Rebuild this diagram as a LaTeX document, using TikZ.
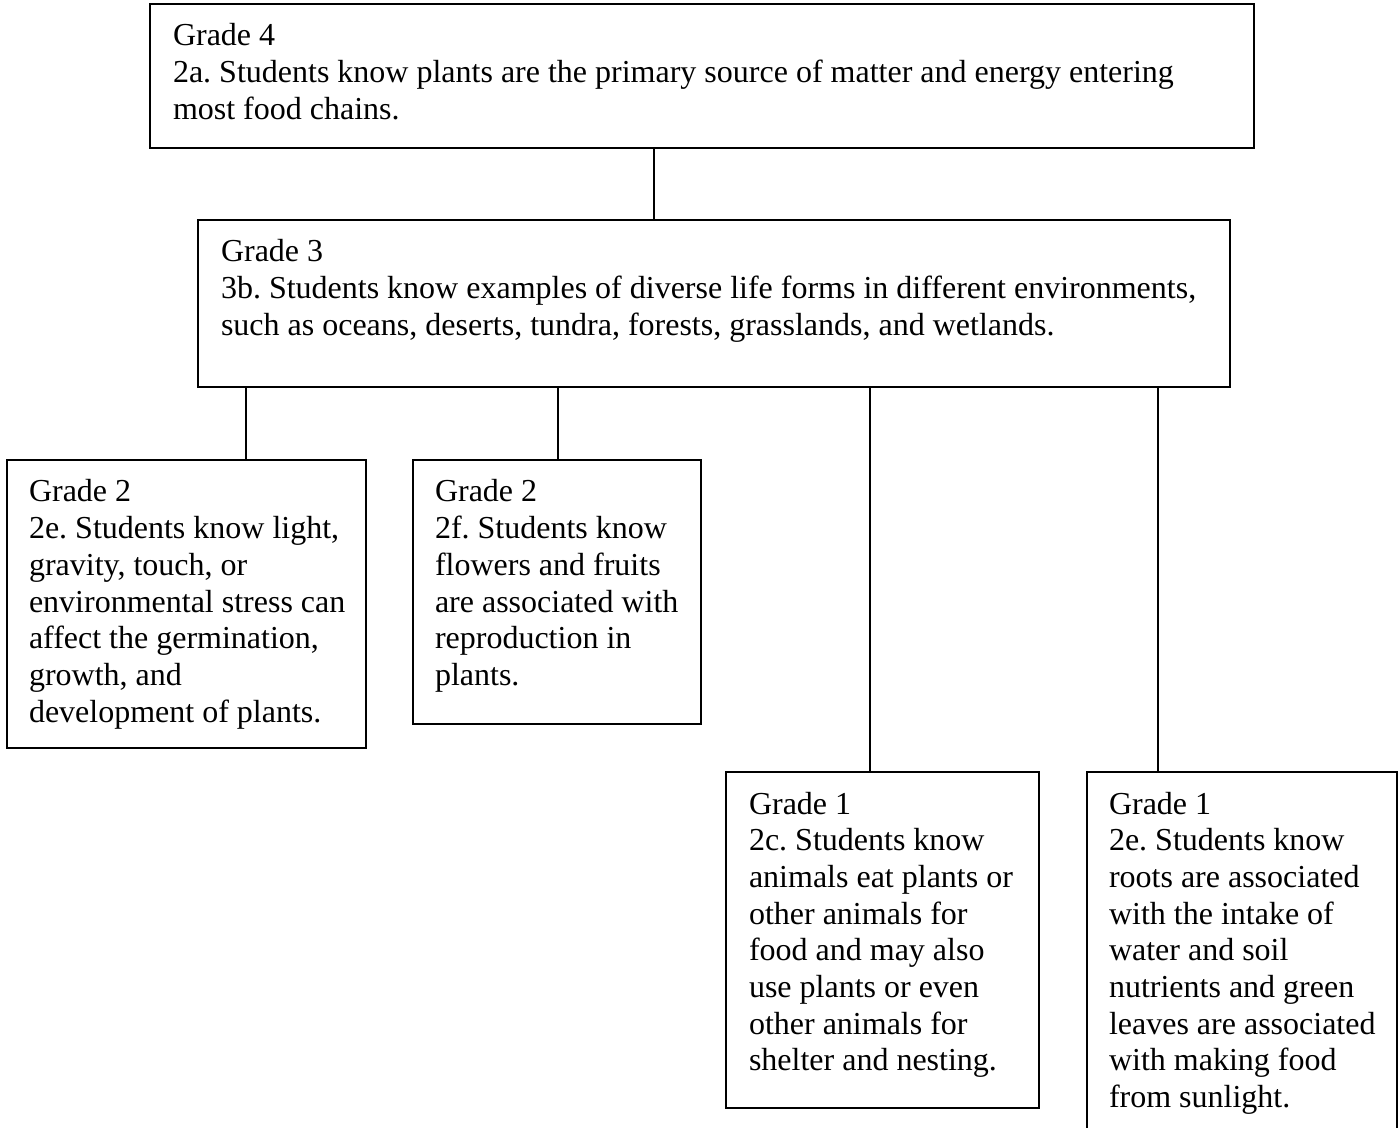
\documentclass[tikz,border=0pt]{standalone}
\usepackage{fontspec}
\setmainfont{Liberation Serif}
\usetikzlibrary{fit}

\newcommand{\gradelines}[1]{\begin{tabular}[t]{@{}l@{}}#1\end{tabular}}

\tikzset{every picture/.style={line width=1pt}}
\tikzset{
	gradebox/.style={draw, inner sep=0pt, fit={#1}},
	gradetext/.style={anchor=base west, inner sep=0pt,
		font=\fontsize{16}{18.35}\selectfont\frenchspacing},
	link/.style={line width=0.9pt}}

\begin{document}
\begin{tikzpicture}[x=0.5pt,y=0.5pt,yscale=-1]
	\useasboundingbox (0,0) rectangle (1398,1128);
	
	% Boxes
	\node [gradebox={(150,4) (1254,148)}] (four) {};
	\node [gradebox={(198,220) (1230,387)}] (three) {};
	\node [gradebox={(7,460) (366,748)}] (twoe) {};
	\node [gradebox={(413,460) (701,724)}] (twof) {};
	\node [gradebox={(726,772) (1039,1108)}] (onec) {};
	\node [gradebox={(1087,772) (1397,1150)}] (onee) {};
	
	% Connectors
	\draw [link] (four.south -| 654,0) -- (three.north -| 654,0);
	\draw [link] (three.south -| 246,0) -- (twoe.north -| 246,0);
	\draw [link] (three.south -| 558,0) -- (twof.north -| 558,0);
	\draw [link] (three.south -| 870,0) -- (onec.north -| 870,0);
	\draw [link] (three.south -| 1158,0) -- (onee.north -| 1158,0);
	
	% Text Node
	\node [gradetext] (txtfour) at (172,46) {\gradelines{Grade 4\\2a. Students know plants are the primary source of matter and energy entering\\most food chains.}};
	% Text Node
	\node [gradetext] (txtthree) at (220,262) {\gradelines{Grade 3\\3b. Students know examples of diverse life forms in different environments,\\such as oceans, deserts, tundra, forests, grasslands, and wetlands.}};
	% Text Node
	\node [gradetext] (txttwoe) at (28,502) {\gradelines{Grade 2\\2e. Students know light,\\gravity, touch, or\\environmental stress can\\affect the germination,\\growth, and\\development of plants.}};
	% Text Node
	\node [gradetext] (txttwof) at (434,502) {\gradelines{Grade 2\\2f. Students know\\flowers and fruits\\are associated with\\reproduction in\\plants.}};
	% Text Node
	\node [gradetext] (txtonec) at (748,814) {\gradelines{Grade 1\\2c. Students know\\animals eat plants or\\other animals for\\food and may also\\use plants or even\\other animals for\\shelter and nesting.}};
	% Text Node
	\node [gradetext] (txtonee) at (1108,814) {\gradelines{Grade 1\\2e. Students know\\roots are associated\\with the intake of\\water and soil\\nutrients and green\\leaves are associated\\with making food\\from sunlight.}};
	
\end{tikzpicture}
\end{document}
